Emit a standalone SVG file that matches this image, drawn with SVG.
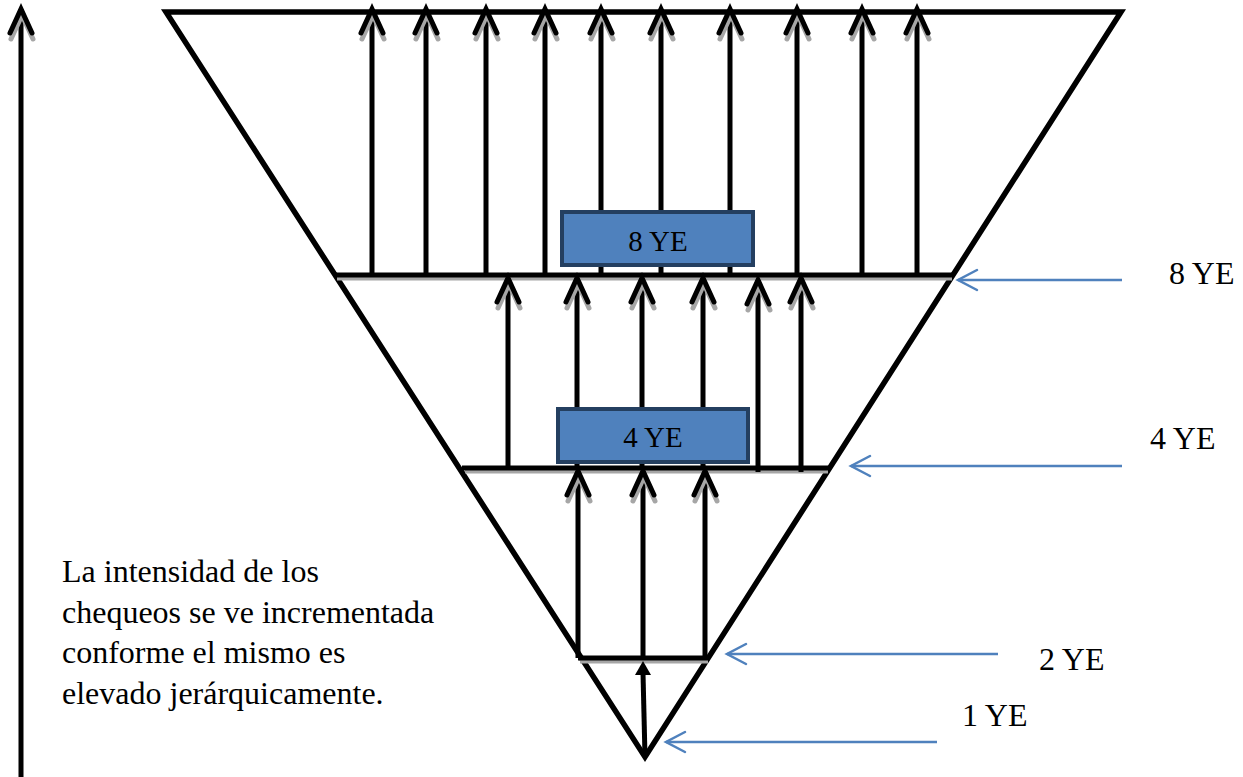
<svg xmlns="http://www.w3.org/2000/svg" width="1243" height="777" viewBox="0 0 1243 777">
  <style>
    .edge { fill: none; stroke: #000; stroke-width: 5.5; stroke-linejoin: miter; }
    .lvl { stroke: #000; stroke-width: 5; }
    .lvlsh { stroke: #A6A6A6; stroke-width: 5; }
    .up { stroke: #000; stroke-width: 5; fill: none; marker-end: url(#head); }
    .blue { stroke: #4F81BD; stroke-width: 2.5; fill: none; marker-end: url(#bhead); }
    .box { fill: #4F81BD; stroke: #243F60; stroke-width: 4; }
    .t { font-family: "Liberation Serif", "Times New Roman", serif; fill: #000; }
    .bl { font-size: 29px; text-anchor: middle; }
    .lb { font-size: 32px; }
  </style>
  <defs>
    <marker id="head" markerUnits="userSpaceOnUse" viewBox="-30 -16 36 32" refX="0" refY="0" markerWidth="36" markerHeight="32" orient="auto" overflow="visible">
      <path d="M-27,-11 L-3,0 L-27,11" fill="none" stroke="#A6A6A6" stroke-width="5" stroke-linecap="round" stroke-linejoin="miter" transform="translate(-3,1)"/>
      <path d="M-24,-11 L0,0 L-24,11" fill="none" stroke="#000" stroke-width="5" stroke-linecap="round" stroke-linejoin="miter"/>
    </marker>
    <marker id="bhead" markerUnits="userSpaceOnUse" viewBox="-24 -12 28 24" refX="0" refY="0" markerWidth="28" markerHeight="24" orient="auto" overflow="visible">
      <path d="M-19,-10 L0,0 L-19,10" fill="none" stroke="#4F81BD" stroke-width="2.5" stroke-linecap="round"/>
    </marker>
  </defs>

  <g id="pyramid">
    <polygon class="edge" points="166,12 1121,12 645,757"/>
  </g>

  <g id="levels">
    <line class="lvlsh" x1="337" y1="278" x2="952" y2="278"/>
    <line class="lvl" x1="335" y1="275" x2="952" y2="275"/>
    <line class="lvlsh" x1="465" y1="471" x2="828" y2="471"/>
    <line class="lvl" x1="462" y1="468" x2="828" y2="468"/>
    <line class="lvlsh" x1="580" y1="661" x2="708" y2="661"/>
    <line class="lvl" x1="578" y1="658" x2="708" y2="658"/>
  </g>

  <g id="connectors">
    <!-- left big arrow -->
    <line class="up" x1="21" y1="777" x2="21" y2="9"/>
    <!-- top section -->
    <line class="up" x1="372" y1="275" x2="372" y2="9"/>
    <line class="up" x1="426" y1="275" x2="426" y2="9"/>
    <line class="up" x1="486" y1="275" x2="486" y2="9"/>
    <line class="up" x1="545" y1="275" x2="545" y2="9"/>
    <line class="up" x1="601" y1="275" x2="601" y2="9"/>
    <line class="up" x1="661" y1="275" x2="661" y2="9"/>
    <line class="up" x1="730" y1="275" x2="730" y2="9"/>
    <line class="up" x1="797" y1="275" x2="797" y2="9"/>
    <line class="up" x1="862" y1="275" x2="862" y2="9"/>
    <line class="up" x1="917" y1="275" x2="917" y2="9"/>
    <!-- middle section -->
    <line class="up" x1="508" y1="468" x2="508" y2="278"/>
    <line class="up" x1="577" y1="468" x2="577" y2="278"/>
    <line class="up" x1="642" y1="468" x2="642" y2="278"/>
    <line class="up" x1="703" y1="468" x2="703" y2="278"/>
    <line class="up" x1="758" y1="472" x2="758" y2="280"/>
    <line class="up" x1="801" y1="472" x2="801" y2="278"/>
    <!-- bottom section -->
    <line class="up" x1="578" y1="658" x2="578" y2="471"/>
    <line class="up" x1="643" y1="658" x2="643" y2="471"/>
    <line class="up" x1="705" y1="658" x2="705" y2="471"/>
    <!-- apex arrow -->
    <line x1="645" y1="757" x2="643" y2="673" stroke="#000" stroke-width="5"/>
    <polygon points="643,661 651,675 635,675" fill="#000"/>
    <!-- blue level pointers -->
    <line class="blue" x1="1122" y1="280" x2="958" y2="280"/>
    <line class="blue" x1="1122" y1="466" x2="851" y2="466"/>
    <line class="blue" x1="998" y1="654" x2="727" y2="654"/>
    <line class="blue" x1="937" y1="742" x2="666" y2="742"/>
  </g>

  <g id="box8">
    <rect class="box" x="562" y="212" width="191" height="53"/>
    <text class="t bl" x="658" y="251">8 YE</text>
  </g>
  <g id="box4">
    <rect class="box" x="558" y="409" width="190" height="53"/>
    <text class="t bl" x="653" y="447">4 YE</text>
  </g>

  <g id="labels">
    <text class="t lb" x="1169" y="284">8 YE</text>
    <text class="t lb" x="1150" y="449">4 YE</text>
    <text class="t lb" x="1039" y="670">2 YE</text>
    <text class="t lb" x="962" y="726">1 YE</text>
  </g>

  <g id="note">
    <text class="t lb" x="62" y="582">La intensidad de los</text>
    <text class="t lb" x="62" y="623">chequeos se ve incrementada</text>
    <text class="t lb" x="62" y="663">conforme el mismo es</text>
    <text class="t lb" x="62" y="704">elevado jerárquicamente.</text>
  </g>
</svg>
